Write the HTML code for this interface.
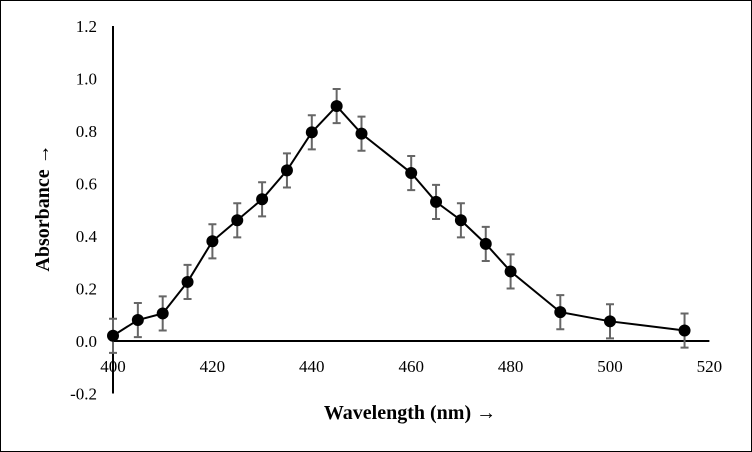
<!DOCTYPE html>
<html><head><meta charset="utf-8"><style>
body{margin:0;background:#fff}
svg{display:block;font-family:"Liberation Serif",serif}
</style></head><body>
<svg width="752" height="452">
<rect x="0.5" y="0.5" width="751" height="451" fill="#fff" stroke="#000"/>
<g id="g"></g>
<text x="410" y="419" font-size="20" font-weight="bold" text-anchor="middle">Wavelength (nm) →</text>
<text transform="translate(49,208) rotate(-90)" font-size="20" font-weight="bold" text-anchor="middle">Absorbance →</text>
</svg>
<script>
const wavelengths=[400,405,410,415,420,425,430,435,440,445,450,460,465,470,475,480,490,500,515];
const absorbance=[0.02,0.08,0.105,0.225,0.38,0.46,0.54,0.65,0.795,0.895,0.79,0.64,0.53,0.46,0.37,0.265,0.11,0.075,0.04];
const errors=[0.065,0.065,0.065,0.065,0.065,0.065,0.065,0.065,0.065,0.065,0.065,0.065,0.065,0.065,0.065,0.065,0.065,0.065,0.065];
const xTicks=[400,420,440,460,480,500,520];
const yTicks=[-0.2,0,0.2,0.4,0.6,0.8,1.0,1.2];
const X=v=>113+(v-400)*4.97;
const Y=v=>341-v*262.5;
const g=document.getElementById('g');
const NS='http://www.w3.org/2000/svg';
function mk(t,a){const e=document.createElementNS(NS,t);for(const k in a)e.setAttribute(k,a[k]);g.appendChild(e);return e;}
let e=mk('line',{x1:X(400),x2:X(400),y1:Y(1.2),y2:Y(-0.2),stroke:'#000','stroke-width':2});


e=mk('line',{x1:X(400),x2:X(520),y1:Y(0),y2:Y(0),stroke:'#000','stroke-width':2});


yTicks.forEach(v=>{const t=mk('text',{x:97,y:Y(v)+6,'font-size':17,'text-anchor':'end'});t.textContent=v.toFixed(1);

});
xTicks.forEach(v=>{const t=mk('text',{x:X(v),y:372,'font-size':17,'text-anchor':'middle'});t.textContent=v;

});
wavelengths.forEach((w,i)=>{const x=X(w),a=Y(absorbance[i]+errors[i]),b=Y(absorbance[i]-errors[i]);
const p=mk('path',{d:`M${x},${a}V${b}M${x-4},${a}H${x+4}M${x-4},${b}H${x+4}`,stroke:'#666','stroke-width':2,fill:'none'});

});
const ln=mk('polyline',{points:wavelengths.map((w,i)=>X(w)+','+Y(absorbance[i])).join(' '),fill:'none',stroke:'#000','stroke-width':2});


wavelengths.forEach((w,i)=>{const c=mk('circle',{cx:X(w),cy:Y(absorbance[i]),r:6,fill:'#000'});

});
</script>
</body></html>
